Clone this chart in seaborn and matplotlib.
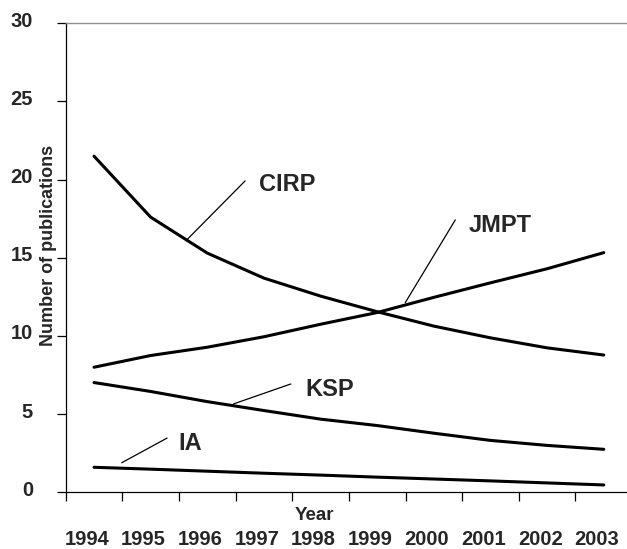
import numpy as np
import pandas as pd
import matplotlib
matplotlib.use("Agg")
import matplotlib.pyplot as plt
import seaborn as sns
from matplotlib.transforms import ScaledTranslation
from matplotlib.ticker import FixedLocator

# ---- data ----
years = [1994, 1995, 1996, 1997, 1998, 1999, 2000, 2001, 2002, 2003]
cirp = [21.5, 17.6, 15.3, 13.7, 12.55, 11.55, 10.63, 9.88, 9.24, 8.78]
jmpt = [8.0, 8.75, 9.28, 9.95, 10.75, 11.5, 12.47, 13.4, 14.3, 15.33]
ksp = [7.02, 6.45, 5.8, 5.23, 4.68, 4.27, 3.78, 3.32, 3.0, 2.75]
ia = [1.6, 1.48, 1.35, 1.22, 1.1, 0.97, 0.85, 0.73, 0.6, 0.47]
series_names = ["CIRP", "JMPT", "KSP", "IA"]
y_ticks = [0, 5, 10, 15, 20, 25, 30]

pos = list(range(len(years)))
frames = []
for name, vals in zip(series_names, [cirp, jmpt, ksp, ia]):
    frames.append(pd.DataFrame({"pos": pos, "year": years, "value": vals, "series": name}))
df = pd.concat(frames, ignore_index=True)

sns.set_style("white")
plt.rcParams["font.family"] = ["Liberation Sans", "DejaVu Sans"]
plt.rcParams["font.weight"] = "bold"

fig = plt.figure(figsize=(6.27, 5.49), dpi=100)
ax = fig.add_axes([65.7 / 627, 1 - 492.3 / 549, 1 - 65.7 / 627, (492.3 - 23.3) / 549])

for name in series_names:
    sub = df[df["series"] == name]
    sns.lineplot(data=sub, x="pos", y="value", ax=ax, color="black",
                 linewidth=2.2, estimator=None, sort=False, legend=False)

ax.set_xlim(-0.5, 9.41)
ax.set_ylim(0, 30)

# spines
ax.spines["right"].set_visible(False)
ax.spines["top"].set_color("#8f8f8f")
ax.spines["top"].set_linewidth(1.0)
for s in ["left", "bottom"]:
    ax.spines[s].set_color("black")
    ax.spines[s].set_linewidth(0.9)

# x ticks: labels at data positions, tick marks between categories
ax.xaxis.set_major_locator(FixedLocator(pos))
ax.set_xticklabels([str(y) for y in years])
ax.xaxis.set_minor_locator(FixedLocator([p - 0.5 for p in pos]))
ax.tick_params(axis="x", which="major", length=0, pad=27, labelsize=14.5)
ax.tick_params(axis="x", which="minor", length=6.5, width=0.9, color="black",
               direction="out", bottom=True)
ax.set_yticks(y_ticks)
ax.tick_params(axis="y", which="major", length=6.5, width=0.9, color="black",
               direction="out", left=True, pad=17, labelsize=14.5)

for lab in ax.get_xticklabels():
    lab.set_fontweight("bold")
    lab.set_transform(lab.get_transform() + ScaledTranslation(-0.07, 0, fig.dpi_scale_trans))
for lab in ax.get_yticklabels():
    lab.set_fontweight("bold")
    lab.set_transform(lab.get_transform() + ScaledTranslation(0, 0.04, fig.dpi_scale_trans))

ax.set_xlabel("Year", fontsize=13.5, fontweight="bold")
ax.xaxis.set_label_coords(0.444, -0.0505)
ax.xaxis.label.set_va("center")
ax.set_ylabel("Number of publications", fontsize=13, fontweight="bold")
ax.yaxis.set_label_coords(-0.031, 0.527)
ax.yaxis.label.set_va("center")

# annotations with leader lines
notes = [
    ("CIRP", (1.625, 16.1), (2.668, 19.92), (2.915, 19.72)),
    ("JMPT", (5.495, 12.13), (6.378, 17.42), (6.608, 17.04)),
    ("KSP", (2.461, 5.65), (3.475, 6.93), (3.73, 6.58)),
    ("IA", (0.489, 1.89), (1.29, 3.47), (1.484, 3.12)),
]
for text, p0, p1, tpos in notes:
    ax.annotate("", xy=p0, xytext=p1,
                arrowprops=dict(arrowstyle="-", color="black", lw=0.9,
                                shrinkA=0, shrinkB=0))
    ax.text(tpos[0], tpos[1], text, fontsize=17, fontweight="bold",
            ha="left", va="center")

fig.savefig("out.png", dpi=100)
